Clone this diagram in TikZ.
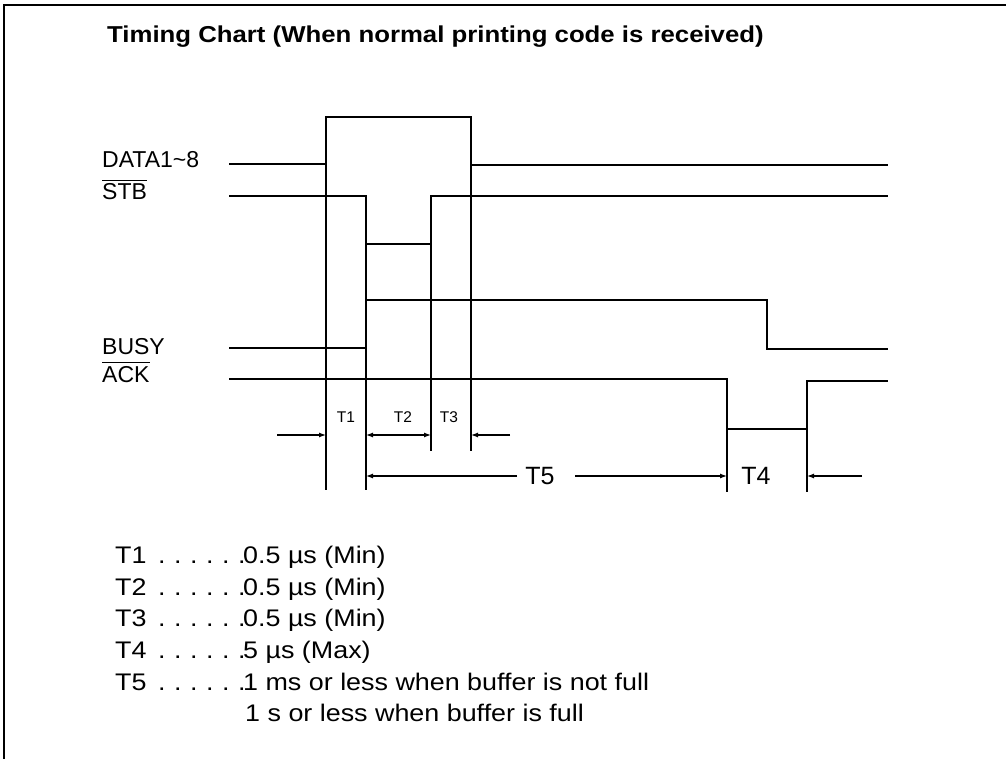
\documentclass[tikz,border=0pt]{standalone}
\usepackage{fontspec}
\setmainfont{Liberation Sans}
\newfontfamily\titlefont[FakeStretch=1.12]{Liberation Sans}
\newfontfamily\listfont[FakeStretch=1.12]{Liberation Sans}
\usetikzlibrary{arrows.meta}
\newcommand{\dotrow}{.\kern8.5pt.\kern8.5pt.\kern8.5pt.\kern8.5pt.\kern8.5pt.}
\begin{document}
\begin{tikzpicture}[x=1pt,y=-1pt,
  signal/.style={line width=2.4pt,line join=miter},
  guide/.style={line width=1.2pt},
  dim/.style={line width=1.2pt},
  tip/.style={-{Latex[length=7pt,width=5pt]}},
  lbl/.style={inner sep=0pt,anchor=base west,font=\fontsize{23}{27}\selectfont},
  small/.style={inner sep=0pt,font=\fontsize{15.5}{18}\selectfont},
  big/.style={inner sep=0pt,font=\fontsize{25}{28}\selectfont},
  row/.style={inner sep=0pt,anchor=base west,font=\listfont\fontsize{24}{28}\selectfont}]
\useasboundingbox (0,0) rectangle (1006,759);
\fill[white] (0,0) rectangle (1006,759);
% frame
\draw[line width=1.5pt] (1006,5) -- (4,5) -- (4,759);
% title
\node[inner sep=0pt,anchor=base west,font=\titlefont\bfseries\fontsize{23}{27}\selectfont] (title) at (107,43) {Timing Chart (When normal printing code is received)};
% signal labels
\node[lbl] (ldata) at (102,168) {DATA1\textasciitilde 8};
\node[lbl] (lstb) at (102,200) {STB};
\node[lbl] (lbusy) at (102,354) {BUSY};
\node[lbl] (lack) at (102,382) {ACK};
\draw[line width=1.4pt] ([yshift=3pt]lstb.north west) -- ([yshift=3pt]lstb.north east);
\draw[line width=1.4pt] ([yshift=3pt]lack.north west) -- ([yshift=3pt]lack.north east);
% waveforms
\draw[signal] (229,164) -- (326,164) -- (326,117) -- (471,117) -- (471,165) -- (888,165);
\draw[signal] (229,196) -- (366,196) -- (366,244) -- (431,244) -- (431,196) -- (888,196);
\draw[signal] (229,348) -- (366,348) -- (366,300) -- (767,300) -- (767,349) -- (888,349);
\draw[signal] (229,379) -- (727,379) -- (727,429) -- (807,429) -- (807,381) -- (888,381);
% guide lines
\coordinate (g1t) at (326,164); \coordinate (g1b) at (326,490);
\coordinate (g2t) at (366,244); \coordinate (g2b) at (366,490);
\coordinate (g3t) at (431,244); \coordinate (g3b) at (431,451);
\coordinate (g4t) at (471,165); \coordinate (g4b) at (471,451);
\coordinate (g5t) at (727,429); \coordinate (g5b) at (727,492);
\coordinate (g6t) at (807,429); \coordinate (g6b) at (807,492);
\draw[guide] (g1t) -- (g1b);
\draw[guide] (g2t) -- (g2b);
\draw[guide] (g3t) -- (g3b);
\draw[guide] (g4t) -- (g4b);
\draw[guide] (g5t) -- (g5b);
\draw[guide] (g6t) -- (g6b);
% dimension arrows
\coordinate (a1s) at (277,435); \coordinate (a1e) at (326,435);
\coordinate (a2s) at (366,435); \coordinate (a2e) at (431,435);
\coordinate (a3s) at (510,435); \coordinate (a3e) at (471,435);
\draw[dim,tip] (a1s) -- (a1e);
\draw[dim,{Latex[length=7pt,width=5pt]}-{Latex[length=7pt,width=5pt]}] (a2s) -- (a2e);
\draw[dim,tip] (a3s) -- (a3e);
\node[small] (t1) at (346,417) {T1};
\node[small] (t2) at (403,417) {T2};
\node[small] (t3) at (449,417) {T3};
\coordinate (a5s) at (366,476); \coordinate (a5e) at (727,476);
\node[big] (t5) at (540,476) {T5};
\draw[dim,tip] ([xshift=-23pt]t5.center) -- (a5s);
\draw[dim,tip] ([xshift=35pt]t5.center) -- (a5e);
\node[big] (t4) at (756,476) {T4};
\coordinate (a4s) at (862,476); \coordinate (a4e) at (807,476);
\draw[dim,tip] (a4s) -- (a4e);
% list
\foreach \n/\yy/\txt in {1/563/{0.5 µs (Min)},2/595/{0.5 µs (Min)},3/626/{0.5 µs (Min)},4/658/{5 µs (Max)},5/690/{1 ms or less when buffer is not full}}{
  \node[row] (k\n) at (115,\yy) {T\n};
  \node[row] (d\n) at (158,\yy) {\dotrow};
  \node[row] (v\n) at (243,\yy) {\txt};
}
\node[row] (v6) at (245,721) {1 s or less when buffer is full};
\end{tikzpicture}
\end{document}
